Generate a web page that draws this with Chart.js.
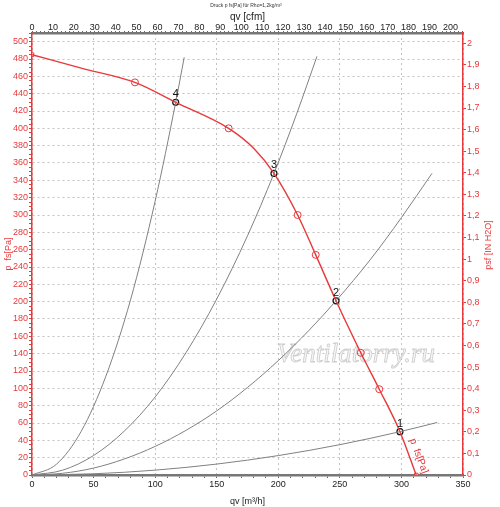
<!DOCTYPE html>
<html>
<head>
<meta charset="utf-8">
<script src="https://cdn.jsdelivr.net/npm/chart.js@4"></script>
<style>
  html, body { margin: 0; padding: 0; background: #fff; }
  #box { width: 500px; height: 507px; }
</style>
</head>
<body>
<div id="box"><canvas id="fanChart"></canvas></div>
<script>
// fan curve p fs [Pa] over qv [m3/h]
const fanQ = [0, 40, 83.6, 116.7, 159.7, 180, 196.5, 215.7, 230.4, 246.9, 267, 282, 298.8, 312];
const fanP = [485, 469.5, 453, 430, 400, 377, 348, 300, 254, 201, 141, 99, 50, 0];

// measured points marked on the fan curve
const markQ = [83.6, 159.7, 215.7, 230.4, 267, 282];
const markP = [453, 400, 300, 254, 141, 99];
const endQ = [0, 312];
const endP = [485, 0];

// system curves 1..4
const sys1Q = [0, 50, 100, 150, 200, 250, 298.8, 329];
const sys1P = [0, 1.4, 5.6, 12.6, 22.4, 35, 50, 60.6];
const sys2Q = [0, 25, 50, 75, 100, 125, 150, 175, 200, 225, 246.9, 275, 300, 324.8];
const sys2P = [0, 2, 8, 18.5, 33, 51.5, 74, 101, 132, 167, 201, 249, 297, 348];
const sys3Q = [0, 25, 50, 75, 100, 125, 150, 175, 196.5, 215, 231.4];
const sys3P = [0, 5.6, 22.5, 50.7, 90, 141, 203, 276, 348, 417, 483];
const sys4Q = [0, 20, 40, 60, 80, 100, 116.7, 123.6];
const sys4P = [0, 12.6, 50.5, 114, 202, 316, 430, 482];

// operating points
const opQ = [298.8, 246.9, 196.5, 116.7];
const opP = [50, 201, 348, 430];
const opLabels = ['1', '2', '3', '4'];

// secondary axis tick labels
const cfmTicks = [0, 10, 20, 30, 40, 50, 60, 70, 80, 90, 100, 110, 120, 130, 140, 150, 160, 170, 180, 190, 200];
const inH2OTicks = [0, 0.1, 0.2, 0.3, 0.4, 0.5, 0.6, 0.7, 0.8, 0.9, 1, 1.1, 1.2, 1.3, 1.4, 1.5, 1.6, 1.7, 1.8, 1.9, 2];
const inH2OLabels = ['0', '0,1', '0,2', '0,3', '0,4', '0,5', '0,6', '0,7', '0,8', '0,9', '1',
  '1,1', '1,2', '1,3', '1,4', '1,5', '1,6', '1,7', '1,8', '1,9', '2'];

const RED = '#e8383a';
const GRID = '#c2c2c2';
const PA_PER_INH2O = 249.089;
const CFM_PER_M3H = 0.58858;

const pts = (xs, ys) => xs.map((x, i) => ({ x: x, y: ys[i] }));

// minor ticks on the cfm axis every 2 cfm
const cfmMinor = [];
for (let v = 0; v <= 206; v += 2) cfmMinor.push(v);

const annotations = {
  id: 'annotations',
  beforeDatasetsDraw(chart) {
    const { ctx, scales } = chart;
    ctx.save();
    ctx.font = 'italic 27px "Liberation Serif"';
    ctx.textAlign = 'center';
    ctx.textBaseline = 'middle';
    ctx.fillStyle = 'rgba(246,246,246,0.95)';
    ctx.strokeStyle = 'rgba(185,185,185,0.7)';
    ctx.lineWidth = 0.8;
    const wx = scales.x.getPixelForValue(263);
    const wy = scales.y.getPixelForValue(139);
    ctx.fillText('Ventilatorry.ru', wx, wy);
    ctx.strokeText('Ventilatorry.ru', wx, wy);
    ctx.restore();
  },
  afterDatasetsDraw(chart) {
    const { ctx, scales } = chart;
    ctx.save();
    // operating point numbers
    const meta = chart.getDatasetMeta(7);
    ctx.font = '11px "Liberation Sans"';
    ctx.fillStyle = '#111';
    ctx.textAlign = 'center';
    ctx.textBaseline = 'middle';
    meta.data.forEach((el, i) => {
      ctx.fillText(opLabels[i], el.x, el.y - 8);
    });
    // label along the fan curve
    const x1 = scales.x.getPixelForValue(fanQ[fanQ.length - 2]);
    const y1 = scales.y.getPixelForValue(fanP[fanP.length - 2]);
    const x2 = scales.x.getPixelForValue(fanQ[fanQ.length - 1]);
    const y2 = scales.y.getPixelForValue(fanP[fanP.length - 1]);
    const ang = Math.atan2(y2 - y1, x2 - x1);
    ctx.translate(scales.x.getPixelForValue(314), scales.y.getPixelForValue(22));
    ctx.rotate(ang);
    ctx.font = '10px "Liberation Sans"';
    ctx.fillStyle = RED;
    ctx.fillText('p  fs[Pa]', 0, 0);
    ctx.restore();
  },
  afterDraw(chart) {
    const { ctx } = chart;
    ctx.save();
    ctx.fillStyle = '#333';
    ctx.font = '5px "Liberation Sans"';
    ctx.textAlign = 'center';
    ctx.textBaseline = 'middle';
    ctx.fillText('Druck p fs[Pa] für Rho=1,2kg/m³', 246, 6);
    // right axis title, reads bottom to top
    ctx.translate(489, 245);
    ctx.rotate(-Math.PI / 2);
    ctx.fillStyle = RED;
    ctx.font = '9px "Liberation Sans"';
    ctx.fillText('psf [IN H2O]', 0, 0);
    ctx.restore();
  }
};

const sysStyle = {
  borderColor: '#808080',
  borderWidth: 1,
  pointRadius: 0,
  showLine: true,
  cubicInterpolationMode: 'monotone',
  fill: false
};

new Chart(document.getElementById('fanChart'), {
  type: 'scatter',
  data: {
    datasets: [
      Object.assign({ label: 'Anlage 1', data: pts(sys1Q, sys1P) }, sysStyle),
      Object.assign({ label: 'Anlage 2', data: pts(sys2Q, sys2P) }, sysStyle),
      Object.assign({ label: 'Anlage 3', data: pts(sys3Q, sys3P) }, sysStyle),
      Object.assign({ label: 'Anlage 4', data: pts(sys4Q, sys4P) }, sysStyle),
      {
        label: 'p fs[Pa]',
        data: pts(fanQ, fanP),
        borderColor: RED,
        borderWidth: 1.4,
        pointRadius: 0,
        showLine: true,
        cubicInterpolationMode: 'monotone'
      },
      {
        label: 'Messpunkte',
        data: pts(markQ, markP),
        borderColor: RED,
        backgroundColor: 'rgba(0,0,0,0)',
        borderWidth: 1,
        pointRadius: 3.5,
        pointStyle: 'circle',
        showLine: false
      },
      {
        label: 'Enden',
        data: pts(endQ, endP),
        borderColor: RED,
        backgroundColor: '#fff',
        borderWidth: 1,
        pointRadius: 2.5,
        pointStyle: 'rect',
        showLine: false
      },
      {
        label: 'Betriebspunkte',
        data: pts(opQ, opP),
        borderColor: '#111',
        backgroundColor: '#fff',
        borderWidth: 1.2,
        pointRadius: 3,
        showLine: false
      }
    ]
  },
  options: {
    responsive: true,
    maintainAspectRatio: false,
    animation: false,
    layout: { padding: 0 },
    plugins: {
      legend: { display: false },
      tooltip: { enabled: false }
    },
    scales: {
      x: {
        type: 'linear',
        position: 'bottom',
        min: 0,
        max: 350,
        ticks: {
          stepSize: 10,
          autoSkip: false,
          maxRotation: 0,
          padding: 1,
          color: '#222',
          font: { family: 'Liberation Sans', size: 9 },
          callback: v => (v % 50 === 0 ? v : '')
        },
        grid: {
          color: c => (c.tick && c.tick.value % 50 === 0 ? GRID : 'rgba(0,0,0,0)'),
          tickColor: '#666',
          tickLength: 3
        },
        border: { color: '#777', width: 2.5, dash: [2, 3] },
        title: {
          display: true,
          text: 'qv [m³/h]',
          color: '#222',
          font: { family: 'Liberation Sans', size: 9 },
          padding: 0
        },
        afterFit: s => { s.height = 32; }
      },
      x2: {
        type: 'linear',
        position: 'top',
        min: 0,
        max: 350 * CFM_PER_M3H,
        afterBuildTicks: s => { s.ticks = cfmMinor.map(v => ({ value: v })); },
        ticks: {
          autoSkip: false,
          maxRotation: 0,
          padding: -2,
          color: '#222',
          font: { family: 'Liberation Sans', size: 9 },
          callback: v => (cfmTicks.includes(v) ? v : '')
        },
        grid: { drawOnChartArea: false, tickColor: '#666', tickLength: 2 },
        border: { color: '#777', width: 2.5 },
        title: {
          display: true,
          text: 'qv [cfm]',
          color: '#222',
          font: { family: 'Liberation Sans', size: 10 },
          padding: { top: 11, bottom: 0 }
        },
        afterFit: s => { s.height = 33; }
      },
      y: {
        type: 'linear',
        position: 'left',
        min: 0,
        max: 510,
        ticks: {
          stepSize: 5,
          autoSkip: false,
          padding: 1,
          color: RED,
          font: { family: 'Liberation Sans', size: 9 },
          callback: v => (v % 20 === 0 ? v : '')
        },
        grid: {
          color: c => (c.tick && c.tick.value % 20 === 0 ? GRID : 'rgba(0,0,0,0)'),
          tickColor: RED,
          tickLength: 3
        },
        border: { color: RED, width: 1.5, dash: [2, 3] },
        title: {
          display: true,
          text: 'p  fs[Pa]',
          color: RED,
          font: { family: 'Liberation Sans', size: 9 },
          padding: { top: 3, bottom: 0 }
        },
        afterFit: s => { s.width = 32; }
      },
      y2: {
        type: 'linear',
        position: 'right',
        min: 0,
        max: 510 / PA_PER_INH2O,
        afterBuildTicks: s => { s.ticks = inH2OTicks.map(v => ({ value: v })); },
        ticks: {
          autoSkip: false,
          padding: 1,
          color: RED,
          font: { family: 'Liberation Sans', size: 9 },
          callback: (v, i) => inH2OLabels[i]
        },
        grid: { drawOnChartArea: false, tickColor: RED, tickLength: 3 },
        border: { color: RED, width: 1.5 },
        afterFit: s => { s.width = 37; }
      }
    }
  },
  plugins: [annotations]
});
</script>
</body>
</html>
